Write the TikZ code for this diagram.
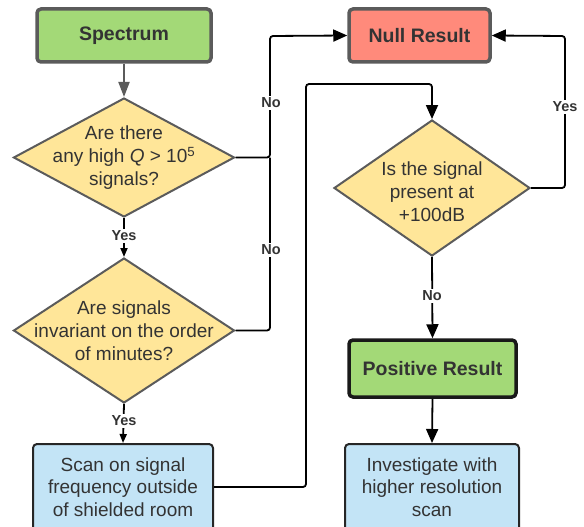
\documentclass[tikz,border=0pt]{standalone}
\usepackage{fontspec}
\setmainfont{Liberation Sans}
\usetikzlibrary{shapes.geometric,arrows.meta}
\definecolor{gfill}{HTML}{A3D977}
\definecolor{rfill}{HTML}{FF8A7B}
\definecolor{yfill}{HTML}{FFE699}
\definecolor{bfill}{HTML}{C3E4F6}
\definecolor{gline}{HTML}{5B5B5B}
\definecolor{txt}{HTML}{333333}
\tikzset{
  every node/.style={text=txt},
  termbox/.style={draw=gline, line width=3.5pt, rounded corners=4pt, inner sep=0pt, font=\fontsize{19.5}{23}\selectfont\bfseries},
  procbox/.style={draw=black!85, line width=2pt, rounded corners=4pt, fill=bfill, inner sep=0pt, align=center},
  dia/.style={diamond, draw=gline, line width=2pt, fill=yfill, inner sep=0pt, aspect=1.86},
  bodytext/.style={align=center, font=\fontsize{19}{22.7}\selectfont},
  diatext/.style={align=center, font=\fontsize{19}{23.2}\selectfont},
  conn/.style={line width=1.8pt, rounded corners=3pt},
  bigtip/.style={-{Triangle[length=14pt,width=12pt]}},
  smalltip/.style={-{Triangle[length=9pt,width=7pt]}},
  lab/.style={fill=white, inner sep=2pt, font=\fontsize{14.5}{16}\selectfont\bfseries},
}
\begin{document}
\begin{tikzpicture}[x=1pt,y=-1pt]
\useasboundingbox (0,0) rectangle (584,527);
\clip (0,0) rectangle (584,527);
% boxes
\node[termbox, fill=gfill, minimum width=174pt, minimum height=53pt] (spec) at (124,35.5) {Spectrum};
\node[termbox, fill=rfill, minimum width=141pt, minimum height=53pt] (null) at (419.5,35.5) {Null Result};
\node[termbox, draw=black!90, fill=gfill, minimum width=167pt, minimum height=57pt] (pos) at (432.5,368.5) {Positive Result};
\node[procbox, minimum width=180pt, minimum height=96pt] (scan) at (123,492) {};
\node[procbox, minimum width=174pt, minimum height=96pt] (inv) at (432,492) {};
\node[bodytext] (scant) at (123,487) {Scan on signal\\frequency outside\\of shielded room};
\node[bodytext] (invt) at (432,487) {Investigate with\\higher resolution\\scan};
% diamonds
\node[dia, minimum width=221pt, minimum height=119pt] (d1) at (124,157.5) {};
\node[diatext] at (d1) {Are there\\any high \textit{Q} > 10\textsuperscript{5}\\signals?};
\node[dia, minimum width=221pt, minimum height=145pt] (d2) at (124,330.5) {};
\node[diatext] at (d2) {Are signals\\invariant on the order\\of minutes?};
\node[dia, minimum width=196pt, minimum height=136pt] (d3) at (432,188) {};
\node[diatext] at ([yshift=-3.5pt]d3) {Is the signal\\present at\\+100dB};
% junction coordinates
\coordinate (j1) at (270,157.5);
\coordinate (j2) at (270,330.5);
\coordinate (s1) at (306,487);
\coordinate (s2) at (306,84);
\coordinate (s3) at (432,84);
\coordinate (y1) at (565,188);
\coordinate (y2) at (565,36);
\coordinate (n1) at (270,36);
% connectors
\draw[conn, draw=gline, -{Triangle[length=15pt,width=11pt]}] (spec) -- (d1.north);
\draw[conn, bigtip] (d1.east) -- (j1) -- (n1) -- (null.west);
\draw[conn] (d2.east) -- (j2) -- (j1);
\draw[conn, smalltip] (d1.south) -- (d2.north);
\draw[conn, smalltip] (d2.south) -- (scan.north);
\draw[conn, bigtip] (scan.east |- s1) -- (s1) -- (s2) -- (s3) -- (d3.north);
\draw[conn, bigtip] (d3.east) -- (y1) -- (y2) -- (null.east);
\draw[conn, bigtip] (d3.south) -- (pos.north);
\draw[conn, bigtip] (pos.south) -- (inv.north);
% labels
\node[lab] at (271,103) {No};
\node[lab] at (271,250) {No};
\node[lab] at (124,236) {Yes};
\node[lab] at (124,421) {Yes};
\node[lab] at (565,107) {Yes};
\node[lab] at (432,296) {No};
\end{tikzpicture}
\end{document}
